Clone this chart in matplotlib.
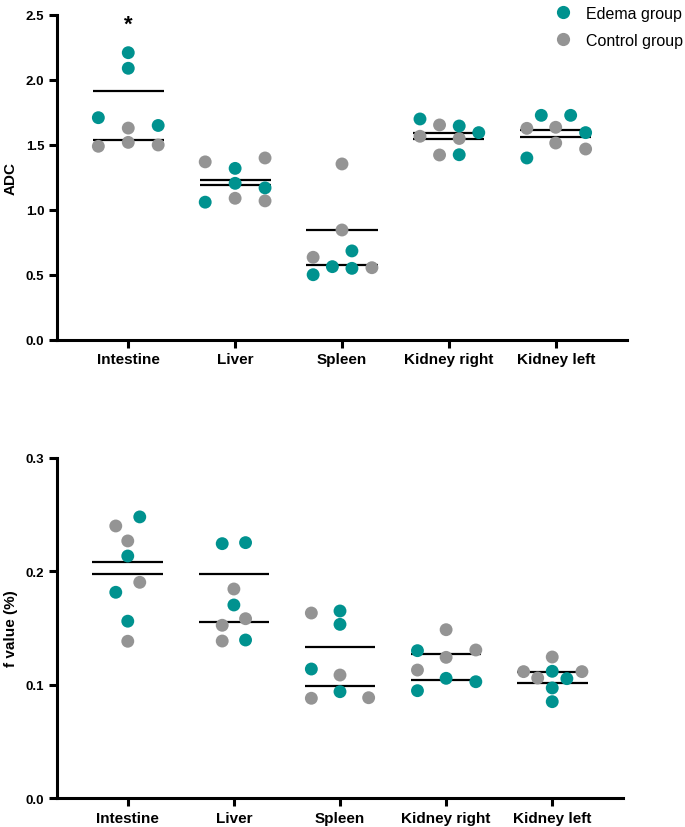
import matplotlib
matplotlib.use("Agg")
import matplotlib.pyplot as plt
import numpy as np
from matplotlib.lines import Line2D

plt.rcParams['font.family'] = ['Liberation Sans', 'DejaVu Sans']

categories = ["Intestine", "Liver", "Spleen", "Kidney right", "Kidney left"]

# ADC values (top panel)
adc_edema = [
    [2.21, 2.09, 1.71, 1.65],
    [1.32, 1.205, 1.17, 1.06],
    [0.685, 0.564, 0.551, 0.502],
    [1.70, 1.646, 1.595, 1.425],
    [1.728, 1.728, 1.595, 1.40],
]
adc_control = [
    [1.63, 1.49, 1.52, 1.50],
    [1.37, 1.40, 1.09, 1.07],
    [1.354, 0.846, 0.636, 0.556],
    [1.654, 1.567, 1.55, 1.423],
    [1.628, 1.636, 1.515, 1.469],
]

# f values (bottom panel)
f_edema = [
    [0.248, 0.2135, 0.1815, 0.156],
    [0.2244, 0.2253, 0.1703, 0.1394],
    [0.165, 0.1532, 0.1138, 0.0938],
    [0.130, 0.1056, 0.1026, 0.0947],
    [0.1118, 0.1053, 0.0971, 0.085],
]
f_control = [
    [0.240, 0.2268, 0.1903, 0.1383],
    [0.1844, 0.1582, 0.1524, 0.1385],
    [0.1632, 0.1085, 0.088, 0.0885],
    [0.1485, 0.1306, 0.1241, 0.1129],
    [0.1244, 0.1115, 0.1115, 0.1059],
]

# horizontal jitter (scatter layout), in category units
adc_edema_dx = [
    [0, 0, -0.28, 0.28],
    [0, 0, 0.28, -0.28],
    [0.093, -0.09, 0.093, -0.27],
    [-0.27, 0.097, 0.28, 0.097],
    [-0.135, 0.14, 0.28, -0.27],
]
adc_control_dx = [
    [0, -0.28, 0, 0.28],
    [-0.28, 0.28, 0, 0.28],
    [0, 0, -0.27, 0.28],
    [-0.087, -0.27, 0.097, -0.087],
    [-0.27, 0, 0, 0.28],
]
f_edema_dx = [
    [0.113, 0, -0.113, 0],
    [-0.11, 0.11, 0, 0.11],
    [0, 0, -0.27, 0],
    [-0.27, 0, 0.28, -0.27],
    [0, 0.138, 0, 0],
]
f_control_dx = [
    [-0.113, 0, 0.113, 0],
    [0, 0.11, -0.11, -0.11],
    [-0.27, 0, -0.27, 0.27],
    [0, 0.28, 0, -0.27],
    [0, -0.27, 0.28, -0.137],
]

TEAL = "#00928F"
GRAY = "#949494"

fig = plt.figure(figsize=(6.85, 8.28), dpi=100)
ax1 = fig.add_axes([0.0832, 0.5882, 0.8321, 0.3925])
ax2 = fig.add_axes([0.0832, 0.0350, 0.8263, 0.4107])


def draw(ax, edema, control, edx, cdx, stat, ylim, yticks, yfmt, ylabel):
    x = np.arange(len(categories))
    for i in range(len(categories)):
        for vals in (edema[i], control[i]):
            m = stat(vals)
            ax.plot([x[i] - 0.333, x[i] + 0.333], [m, m], color="black", lw=1.6,
                    solid_capstyle="butt", zorder=2)
        ax.scatter(x[i] + np.array(cdx[i]), control[i], s=86, color=GRAY,
                   edgecolors="none", zorder=3)
        ax.scatter(x[i] + np.array(edx[i]), edema[i], s=86, color=TEAL,
                   edgecolors="none", zorder=4)
    ax.set_xlim(-0.667, 4.667)
    ax.set_ylim(*ylim)
    ax.set_yticks(yticks)
    ax.set_yticklabels([yfmt.format(v) for v in yticks], fontweight="bold", fontsize=9.5)
    ax.set_xticks(x)
    ax.set_xticklabels(categories, fontweight="bold", fontsize=11)
    ax.set_ylabel(ylabel, fontweight="bold", fontsize=11, labelpad=6)
    for s in ("top", "right"):
        ax.spines[s].set_visible(False)
    for s in ("left", "bottom"):
        ax.spines[s].set_linewidth(2.2)
    ax.tick_params(axis="both", width=2.2, length=6, pad=3)
    for sp in ax.spines.values():
        sp.set_capstyle("projecting")


draw(ax1, adc_edema, adc_control, adc_edema_dx, adc_control_dx, np.mean,
     (0, 2.5), [0.0, 0.5, 1.0, 1.5, 2.0, 2.5], "{:.1f}", "ADC")
draw(ax2, f_edema, f_control, f_edema_dx, f_control_dx, np.median,
     (0, 0.3), [0.0, 0.1, 0.2, 0.3], "{:.1f}", "f value (%)")

ax1.text(0, 2.43, "*", ha="center", va="center", fontsize=16, fontweight="bold")

handles = [
    Line2D([], [], marker="o", ls="none", color=TEAL, markersize=9.5, markeredgewidth=0),
    Line2D([], [], marker="o", ls="none", color=GRAY, markersize=9.5, markeredgewidth=0),
]
fig.legend(handles, ["Edema group", "Control group"], loc="upper right",
           bbox_to_anchor=(1.018, 1.009), frameon=False, fontsize=11.5,
           handletextpad=0.85, labelspacing=0.75, handlelength=1.2)

fig.savefig("out.png", dpi=100)
